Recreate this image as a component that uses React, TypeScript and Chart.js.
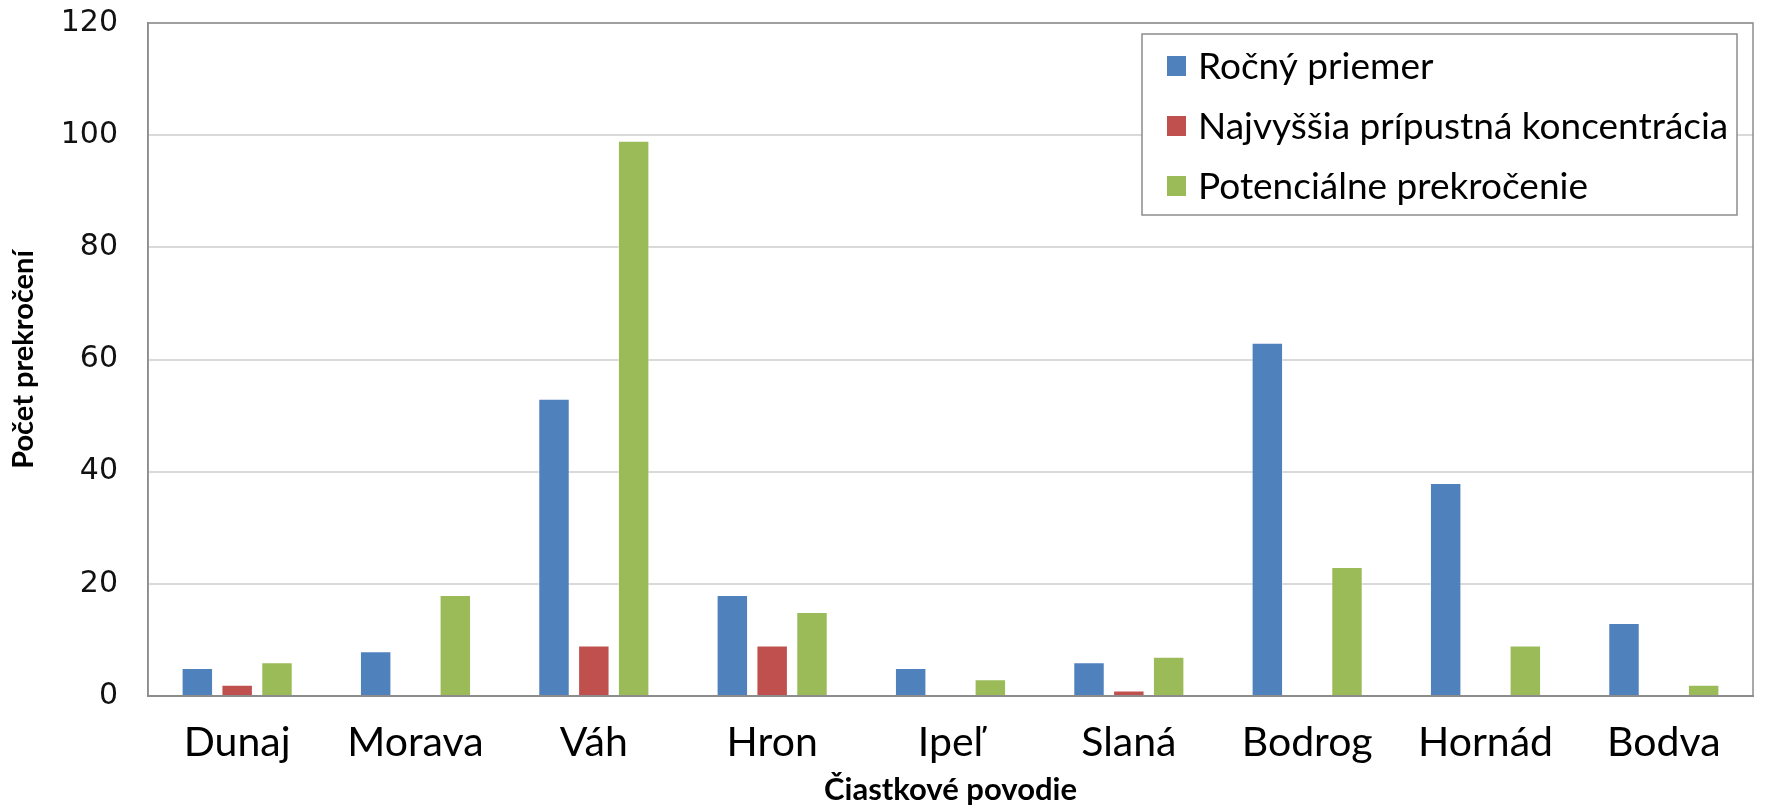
import React, { useEffect, useRef } from "react";
import { Chart, registerables } from "chart.js";

Chart.register(...registerables);

const categories = ["Dunaj", "Morava", "Váh", "Hron", "Ipeľ", "Slaná", "Bodrog", "Hornád", "Bodva"];
const seriesNames = ["Ročný priemer", "Najvyššia prípustná koncentrácia", "Potenciálne prekročenie"];
const rocnyPriemer = [5, 8, 53, 18, 5, 6, 63, 38, 13];
const najvyssiaKoncentracia = [2, 0, 9, 9, 0, 1, 0, 0, 0];
const potencialnePrekrocenie = [6, 18, 99, 15, 3, 7, 23, 9, 2];
const seriesColors = ["#4F81BD", "#C0504D", "#9BBB59"];
const yTicks = [0, 20, 40, 60, 80, 100, 120];
const yTitle = "Počet prekročení";
const xTitle = "Čiastkové povodie";

const frameAndLegend = {
  id: "frameAndLegend",
  afterDraw(chart: any) {
    const ctx = chart.ctx;
    const a = chart.chartArea;
    ctx.save();
    ctx.strokeStyle = "#8c8c8c";
    ctx.lineWidth = 1.5;
    ctx.strokeRect(a.left, a.top, a.right - a.left, a.bottom - a.top);
    // legend
    const bx = 1142, by = 34, bw = 595, bh = 181;
    ctx.fillStyle = "#ffffff";
    ctx.fillRect(bx, by, bw, bh);
    ctx.strokeStyle = "#8c8c8c";
    ctx.lineWidth = 1.5;
    ctx.strokeRect(bx, by, bw, bh);
    ctx.font = "37px Lato";
    ctx.textBaseline = "middle";
    ctx.textAlign = "left";
    chart.data.datasets.forEach((ds: any, i: number) => {
      const cy = by + 32 + i * 60;
      ctx.fillStyle = ds.backgroundColor;
      ctx.fillRect(bx + 25, cy - 10, 19, 20);
      ctx.fillStyle = "#000000";
      ctx.fillText(ds.label, bx + 56, cy + 1);
    });
    ctx.restore();
  },
};

export default function App() {
  const ref = useRef<HTMLCanvasElement>(null);
  useEffect(() => {
    document.body.style.margin = "0";
    const values = [rocnyPriemer, najvyssiaKoncentracia, potencialnePrekrocenie];
    const chart = new Chart(ref.current!, {
      type: "bar",
      data: {
        labels: categories,
        datasets: seriesNames.map((name, i) => ({
          label: name,
          data: values[i],
          backgroundColor: seriesColors[i],
          borderColor: "rgba(255,255,255,0.55)",
          borderWidth: 1,
          categoryPercentage: 0.67,
          barPercentage: 0.79,
        })),
      },
      options: {
        responsive: false,
        animation: false,
        devicePixelRatio: 1,
        layout: { padding: { top: 0, right: 23, left: 0, bottom: 0 } },
        plugins: { legend: { display: false }, tooltip: { enabled: false } },
        scales: {
          x: {
            grid: { display: false, drawTicks: false },
            border: { display: true, color: "#8c8c8c", width: 2 },
            ticks: { color: "#000", font: { family: "Lato", size: 41 }, padding: 22 },
            title: {
              display: true,
              text: xTitle,
              color: "#000",
              font: { family: "Lato", size: 31, weight: "bold" },
              padding: { top: 0, bottom: 0 },
            },
            afterFit: (s: any) => { s.height = 113; },
          },
          y: {
            min: 0,
            max: 120,
            afterBuildTicks: (s: any) => { s.ticks = yTicks.map((v) => ({ value: v })); },
            grid: { color: "#d9d9d9", lineWidth: 2, drawTicks: false },
            border: { display: true, color: "#8c8c8c", width: 1.5 },
            ticks: { color: "#111", font: { family: "DejaVu Sans", size: 30 }, padding: 30 },
            title: {
              display: true,
              text: yTitle,
              color: "#000",
              font: { family: "Lato", size: 29, weight: "bold" },
              padding: { top: 6, bottom: 0 },
            },
            afterFit: (s: any) => { s.width = 148; s.paddingTop = 23; s.paddingBottom = 0; },
          },
        },
      },
      plugins: [frameAndLegend],
    });
    return () => chart.destroy();
  }, []);
  return (
    <div style={{ width: 1776, height: 809 }}>
      <canvas ref={ref} width={1776} height={809} />
    </div>
  );
}
